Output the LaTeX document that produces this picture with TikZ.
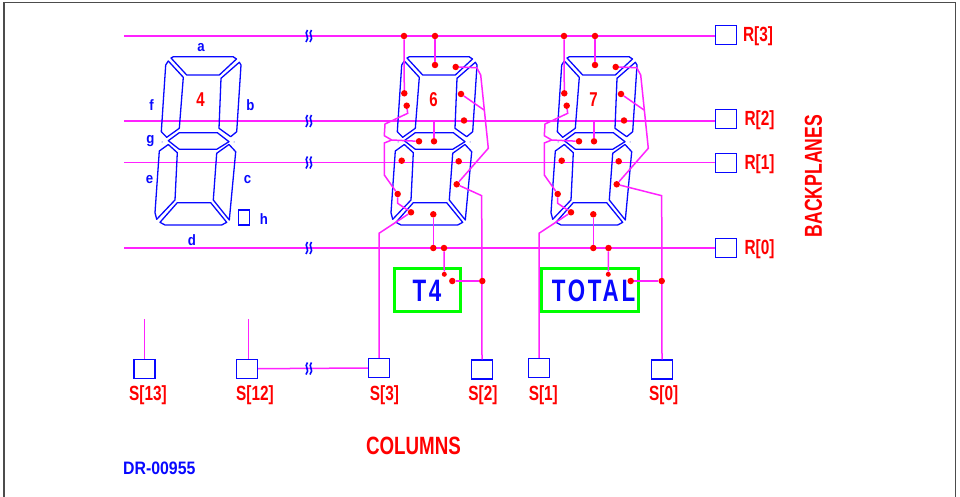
\documentclass[tikz,border=0pt]{standalone}
\usepackage{fontspec}
\setmainfont{Liberation Sans}
\newfontfamily\narrowfont[FakeStretch=.75]{Liberation Sans}
\newfontfamily\tallfont[FakeStretch=.72]{Liberation Sans}
\newfontfamily\spacedfont[FakeStretch=.72,LetterSpace=9]{Liberation Sans}
\newfontfamily\letterfont[FakeStretch=.88]{Liberation Sans}
\usetikzlibrary{positioning}
\definecolor{wirepink}{HTML}{FF22FF}
\definecolor{segblue}{HTML}{0808FF}
\tikzset{
	seg/.style={draw=segblue,line width=1.3pt,line join=round},
	wire/.style={draw=wirepink,line width=1.5pt},
	bp/.style={draw=wirepink,line width=1.8pt},
	pad/.style={draw=segblue,line width=1.4pt,minimum width=21pt,minimum height=19pt,inner sep=0pt},
	via/.style={circle,fill=red,minimum size=6.5pt,inner sep=0pt},
	padname/.style={text=red,font=\narrowfont\bfseries\fontsize{20.5}{20}\selectfont,inner sep=0pt},
	seglabel/.style={text=segblue,font=\letterfont\bfseries\fontsize{15}{15}\selectfont,inner sep=0pt},
	digitlabel/.style={text=red,font=\narrowfont\bfseries\fontsize{20}{20}\selectfont,inner sep=0pt},
	unitlabel/.style={text=segblue,font=\spacedfont\bfseries\fontsize{31}{31}\selectfont,inner sep=0pt},
	unitbox/.style={draw=green,line width=3pt,minimum height=43pt,inner sep=0pt},
	title/.style={text=red,font=\narrowfont\bfseries\fontsize{25}{25}\selectfont,inner sep=0pt},
}
% one seven segment digit, corner values read in px
\newcommand{\sevenseg}{
	\draw[seg] (171,58) -- (173.5,56.7) -- (233,56.7) -- (236.5,59) -- (219.3,75) -- (186.7,75) -- cycle;
	\draw[seg] (168.3,61) -- (165.7,65) -- (161.3,131.7) -- (166.7,137.3) -- (179.3,128.3) -- (183.3,77.3) -- cycle;
	\draw[seg] (239.3,62.3) -- (241,65) -- (236.7,131.7) -- (230.7,136.7) -- (219,128.3) -- (221,78.3) -- cycle;
	\draw[seg] (168.3,140.7) -- (179.3,132.7) -- (217.3,132.7) -- (229,141.7) -- (216.7,149.3) -- (179.3,149.3) -- cycle;
	\draw[seg] (159.3,151) -- (155,212.7) -- (156.7,219.3) -- (175,200) -- (177.3,152.7) -- (168.3,144.5) -- cycle;
	\draw[seg] (235.7,151.7) -- (229.3,220) -- (213.3,200) -- (216.7,153.3) -- (229,144.5) -- cycle;
	\draw[seg] (160,222.3) -- (177.3,202.7) -- (210.7,202.7) -- (226.7,222.3) -- (221.7,225) -- (165,225) -- cycle;
	\fill[segblue] (162,142) circle (.5pt) (234,142) circle (.5pt);
}
% break mark on a backplane or column wire
\newcommand{\wirebreak}[2]{
	\begin{scope}[shift={(#1,#2)}]
		\draw[segblue,line width=1.6pt] (-1,-6) .. controls (-5,-2) and (2,1) .. (-2.5,6);
		\draw[segblue,line width=1.6pt] (3,-6) .. controls (-1,-2) and (6,1) .. (1.5,6);
	\end{scope}
}
\begin{document}
\begin{tikzpicture}[x=1pt,y=-1pt]
	\useasboundingbox (0,0) rectangle (960,497);
	\draw[black!70,line width=1.8pt] (3.8,502) -- (3.8,2.5) -- (955.5,2.5) -- (955.5,502);

	% pads on the right
	\foreach \r/\y/\lx in {3/35/758,2/119/759.5,1/163/759.5,0/248/759.5} {
		\node[pad] (R\r) at (726,\y) {};
		\node[padname] (RL\r) at (\lx,\y+1) {R[\r]};
	}
	\coordinate (B3) at (124,36);
	\coordinate (B2) at (124,121);
	\coordinate (B1) at (124,162.5);
	\coordinate (B0) at (124,248);
	\foreach \r in {3,2,1,0} \draw[bp] (B\r) -- (B\r -| R\r.west);

	% pads on the bottom
	\foreach \s/\x/\y/\lx in {13/144.5/368.7/148,12/247/368.7/255,3/379/368/384.5,2/482/369.5/483,1/539.2/368/543.3,0/662/369.5/663.7} {
		\node[pad] (S\s) at (\x,\y) {};
		\node[padname] (SL\s) at (\lx,395) {S[\s]};
	}
	\coordinate (C13) at (144.5,319);
	\coordinate (C12) at (248.3,319);
	\draw[wire] (C13) -- (S13.north);
	\draw[wire] (C12) -- (S12.north -| C12);
	\draw[wire] (S12.east) -- (S3.west);

	% left digit with its segment names
	\sevenseg
	\node[digitlabel] (D4) at (200.5,100) {4};
	\node[seglabel] (La) at (201,48) {a};
	\node[seglabel] (Lb) at (250.5,105) {b};
	\node[seglabel] (Lc) at (247.5,180) {c};
	\node[seglabel] (Ld) at (192,240) {d};
	\node[seglabel] (Le) at (149.5,180) {e};
	\node[seglabel] (Lf) at (151.5,105) {f};
	\node[seglabel] (Lg) at (150.5,141) {g};
	\node[seglabel] (Lh) at (264,219) {h};
	\node[draw=segblue,line width=1.3pt,minimum width=11pt,minimum height=15pt,inner sep=0pt] (Hbox) at (244.3,217.5) {};

	% the two wired digits
	\foreach \n/\dx/\d/\sa in {6/0/6/S3,7/160/7/S1} {
		\begin{scope}[shift={(236+\dx,0)}]
			\sevenseg
		\end{scope}
		\begin{scope}[shift={(\dx,0)}]
			\node[digitlabel] (D\n) at (433.5,100) {\d};
			\node[via] (T\n a) at (404,36) {};
			\node[via] (T\n b) at (435,36) {};
			\node[via] (V\n a) at (435,65) {};
			\node[via] (V\n f) at (404.3,93.3) {};
			\node[via] (V\n b) at (455.7,67) {};
			\node[via] (V\n h) at (461,94) {};
			\node[via] (V\n p) at (406.7,105.7) {};
			\node[via] (T\n c) at (464,120.5) {};
			\node[via] (V\n g) at (419,141.3) {};
			\node[via] (V\n m) at (434,141.3) {};
			\node[via] (T\n e) at (401.7,160.7) {};
			\node[via] (T\n f) at (458.7,161.3) {};
			\node[via] (V\n c) at (456.7,184.3) {};
			\node[via] (V\n e) at (397.7,194) {};
			\node[via] (V\n k) at (411,212.3) {};
			\node[via] (V\n d) at (433.3,214.3) {};
			\node[via] (T\n d) at (433.3,248) {};
			\coordinate (M\n) at (434,121);
			\draw[wire] (T\n a) -- (V\n f);
			\draw[wire] (T\n b) -- (V\n a);
			\draw[wire] (M\n) -- (V\n m);
			\draw[wire] (V\n d) -- (T\n d);
			\draw[wire] (V\n b) -- (476.7,67.7) -- (480.7,75) -- (488.3,148.3) -- (V\n c);
			\draw[wire] (V\n h) -- (484,110);
			\draw[wire] (V\n p) -- (407.7,113.3) -- (385,124) -- (384.3,135.7) -- (391.7,140) -- (V\n g);
			\draw[wire] (391.7,140) -- (384.3,143) -- (384.3,175) -- (V\n e) -- (397.7,203.3) -- (V\n k) -- (379,233.3) -- (\sa.north);
		\end{scope}
	}
	% ends of the digit wires differ between the two
	\draw[wire] (V6c) -- (481.7,195.7) -- (S2.north);
	\draw[wire] (V7c) -- (661.7,195.7) -- (S0.north);

	% display names and their feeds
	\node[unitbox,minimum width=66pt] (U4) at (427.2,290) {};
	\node[unitbox,minimum width=97pt] (U5) at (590.4,290) {};
	\node[unitlabel] (UL4) at (427,291) {T4};
	\node[unitlabel] (UL5) at (593.5,291) {TOTAL};
	\node[via] (T4r) at (444,248) {};
	\node[via,minimum size=5pt] (P4a) at (444.3,274.3) {};
	\node[via] (P4b) at (452.3,281) {};
	\node[via] (Q4) at (482.3,281) {};
	\node[via] (T5r) at (608.5,248) {};
	\node[via,minimum size=5pt] (P5a) at (608.3,274.3) {};
	\node[via] (P5b) at (630.7,281) {};
	\node[via] (Q5) at (661.7,281) {};
	\draw[wire] (T4r) -- (P4a);
	\draw[wire] (P4b) -- (Q4);
	\draw[wire] (T5r) -- (P5a);
	\draw[wire] (P5b) -- (Q5);

	% breaks
	\foreach \y in {36,121,162.5,248,368.5} {\wirebreak{308.5}{\y}}

	\node[title,rotate=90,font=\tallfont\bfseries\fontsize{24.5}{25}\selectfont] (BP) at (813.5,176) {BACKPLANES};
	\node[title] (CL) at (413.5,446) {COLUMNS};
	\node[text=segblue,font=\letterfont\bfseries\fontsize{18}{19}\selectfont,inner sep=0pt,anchor=west] (DR) at (123,468) {DR-00955};
\end{tikzpicture}
\end{document}
